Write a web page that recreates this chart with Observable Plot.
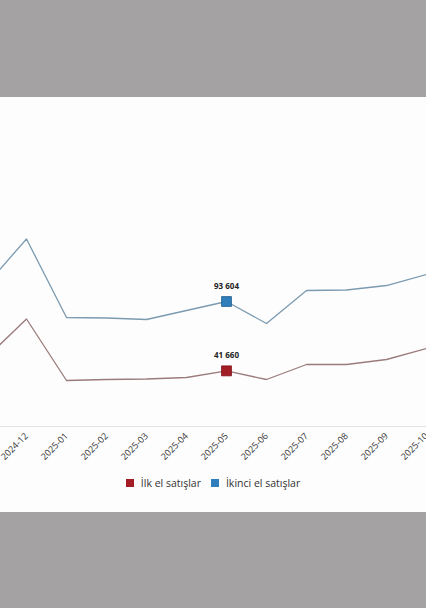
<!DOCTYPE html>
<html>
<head>
<meta charset="utf-8">
<script src="https://cdn.jsdelivr.net/npm/d3@7"></script>
<script src="https://cdn.jsdelivr.net/npm/@observablehq/plot@0.6"></script>
<style>
  html, body { margin: 0; padding: 0; width: 426px; height: 608px; overflow: hidden; background: #a4a2a2; }
  #panel { position: absolute; left: 0; top: 97px; width: 426px; height: 415px; background: #fdfdfd; overflow: hidden; }
  #chart { position: absolute; left: 0; top: 0; }
  #chart svg { overflow: hidden; background: transparent; }
  #legend { position: absolute; left: 0; top: 379px; width: 426px; display: flex; justify-content: center; align-items: center;
            font-family: "Open Sans", sans-serif; font-size: 10.5px; color: #333; gap: 0; }
  .item { display: flex; align-items: center; margin: 0 5px; }
  .sw { width: 8px; height: 8px; margin-right: 7px; }
</style>
</head>
<body>
<div id="panel">
  <div id="chart"></div>
  <div id="legend"></div>
</div>
<script>
const months = ["2024-11","2024-12","2025-01","2025-02","2025-03","2025-04","2025-05","2025-06","2025-07","2025-08","2025-09","2025-10","2025-11"];
const firstHand = [51670, 80500, 34440, 35190, 35570, 36690, 41660, 35190, 46430, 46430, 50170, 58410, 64400];
const secondHand = [106330, 140400, 81620, 81240, 80120, 86860, 93604, 77130, 101840, 102210, 105580, 113820, 118300];
const seriesNames = ["İlk el satışlar", "İkinci el satışlar"];
const seriesColors = ["#a31d24", "#2f7dbb"];
const lineColors = ["#9b7b7b", "#7c9ab0"];
const highlightMonth = "2025-05";

const data = [];
months.forEach((m, i) => {
  data.push({month: m, value: firstHand[i], series: seriesNames[0]});
  data.push({month: m, value: secondHand[i], series: seriesNames[1]});
});
const hl = data.filter(d => d.month === highlightMonth);
const fmt = d3.formatLocale({decimal: ",", thousands: " ", grouping: [3], currency: ["", ""]}).format(",d");

const chart = Plot.plot({
  width: 426,
  height: 375,
  marginTop: 0,
  marginBottom: 46,
  marginLeft: 0,
  marginRight: 0,
  style: {background: "transparent", fontFamily: "Open Sans, sans-serif"},
  x: {type: "point", domain: months, range: [-14.3, 465.7], padding: 0, label: null},
  y: {domain: [0, 246360], axis: null},
  color: {domain: seriesNames, range: lineColors},
  marks: [
    Plot.ruleY([0], {stroke: "#e2e2e2", strokeWidth: 1}),
    Plot.axisX(months.filter(m => m !== months[0] && m !== months[months.length - 1]), {
      tickSize: 0, tickRotate: -45, tickPadding: 8, fontSize: 9, fill: "#333", label: null
    }),
    Plot.line(data, {x: "month", y: "value", z: "series", stroke: "series", strokeWidth: 1.3}),
    Plot.dot(hl, {x: "month", y: "value", symbol: "square", r: 5.6,
      fill: d => d.series === seriesNames[0] ? seriesColors[0] : seriesColors[1],
      stroke: d => d.series === seriesNames[0] ? "#7d1419" : "#24628f", strokeWidth: 0.8}),
    Plot.text(hl, {x: "month", y: "value", text: d => fmt(d.value), dy: -15, fontSize: 8, fontWeight: "bold", fill: "#222"})
  ]
});
document.getElementById("chart").appendChild(chart);

const legend = document.getElementById("legend");
seriesNames.forEach((name, i) => {
  const item = document.createElement("div");
  item.className = "item";
  const sw = document.createElement("div");
  sw.className = "sw";
  sw.style.background = seriesColors[i];
  const label = document.createElement("span");
  label.textContent = name;
  item.appendChild(sw);
  item.appendChild(label);
  legend.appendChild(item);
});
</script>
</body>
</html>
